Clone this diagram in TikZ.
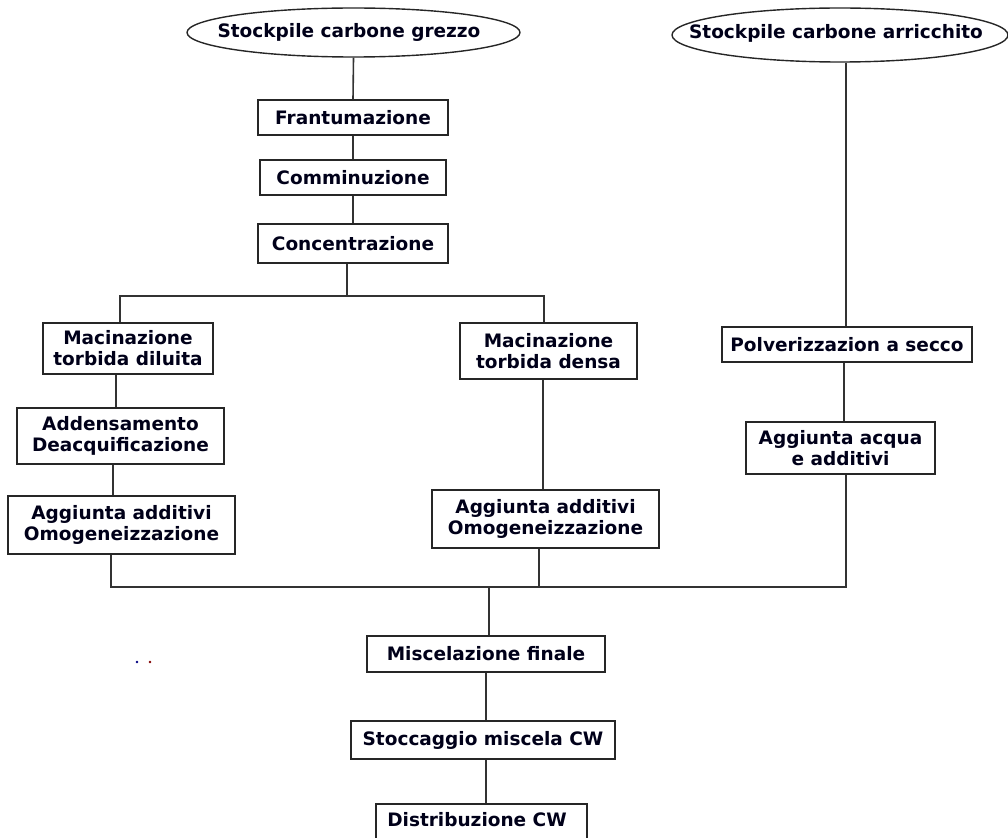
\documentclass[tikz,border=0pt]{standalone}
\usepackage{fontspec}
\setmainfont{DejaVu Sans}
\usetikzlibrary{shapes.geometric}
\begin{document}
\begin{tikzpicture}[x=1pt,y=-1pt,
  txt/.style={font=\fontsize{18.5}{21}\selectfont\bfseries,text=black!90!blue,inner sep=0pt,align=center},
  box/.style={txt,draw=black!85,line width=1.5pt,rectangle},
  oval/.style={draw=black!85,line width=1.4pt,ellipse,inner sep=0pt},
  conn/.style={draw=black!80,line width=1.6pt}]
\useasboundingbox (0,0) rectangle (1008,837);
\clip (0,0) rectangle (1008,837);
% ellipses
\node[oval,minimum width=333,minimum height=49] (ell1) at (353.5,32.5) {};
\node[txt] (ell1t) at (349,32) {Stockpile carbone grezzo};
\node[oval,minimum width=336,minimum height=54] (ell2) at (840,35) {};
\node[txt] (ell2t) at (836,33) {Stockpile carbone arricchito};
% central column
\node[box,minimum width=190,minimum height=35] (fran) at (353,117.5) {Frantumazione};
\node[box,minimum width=186,minimum height=35] (comm) at (353,177.5) {Comminuzione};
\node[box,minimum width=190,minimum height=39] (conc) at (353,243.5) {Concentrazione};
% left branch
\node[box,minimum width=170,minimum height=51] (macd) at (128,348.5) {Macinazione\\torbida diluita};
\node[box,minimum width=207,minimum height=56] (adde) at (120.5,436) {Addensamento\\Deacquificazione};
\node[box,minimum width=227,minimum height=58] (aggl) at (121.5,525) {Aggiunta additivi\\Omogeneizzazione};
% middle branch
\node[box,minimum width=177,minimum height=56] (macs) at (548.5,351) {Macinazione\\torbida densa};
\node[box,minimum width=227,minimum height=58] (aggm) at (545.5,519) {Aggiunta additivi\\Omogeneizzazione};
% right branch
\node[box,minimum width=250,minimum height=35] (polv) at (847,344.5) {Polverizzazion a secco};
\node[box,minimum width=189,minimum height=52] (acqu) at (840.5,448) {Aggiunta acqua\\e additivi};
% bottom
\node[box,minimum width=238,minimum height=36] (misc) at (486,654) {Miscelazione finale};
\node[box,minimum width=264,minimum height=38] (stoc) at (483,740) {Stoccaggio miscela CW};
\node[box,minimum width=211,minimum height=50,anchor=north] (dist) at (481.5,803) {};
\node[txt] (distt) at (477,820) {Distribuzione CW};
% junction coordinates
\coordinate (tl) at (120,296);
\coordinate (tr) at (544,296);
\coordinate (tm) at (347,296);
\coordinate (bl) at (111,587);
\coordinate (br) at (846,587);
\coordinate (bm) at (489,587);
\coordinate (bc) at (539,587);
% connectors
\draw[conn] (ell1.south) -- (fran.north);
\draw[conn] (fran.south) -- (fran.south |- comm.north);
\draw[conn] (comm.south) -- (comm.south |- conc.north);
\draw[conn] (conc.south -| tm) -- (tm);
\draw[conn] (tl |- macd.north) -- (tl) -- (tr) -- (tr |- macs.north);
\draw[conn] (macd.south -| 116,0) -- (adde.north -| 116,0);
\draw[conn] (adde.south -| 113,0) -- (aggl.north -| 113,0);
\draw[conn] (macs.south -| 543,0) -- (aggm.north -| 543,0);
\draw[conn] (aggl.south -| bl) -- (bl) -- (br) -- (acqu.south -| br);
\draw[conn] (aggm.south -| bc) -- (bc);
\draw[conn] (ell2.south -| br) -- (polv.north -| br);
\draw[conn] (polv.south -| 844,0) -- (acqu.north -| 844,0);
\draw[conn] (bm) -- (misc.north -| bm);
\draw[conn] (misc.south) -- (misc.south |- stoc.north);
\draw[conn] (misc.south |- stoc.south) -- (misc.south |- dist.north);
% stray dots
\fill[blue!50!black] (137,662) circle (1.3);
\fill[red!50!black] (150,662) circle (1.3);
\end{tikzpicture}
\end{document}
